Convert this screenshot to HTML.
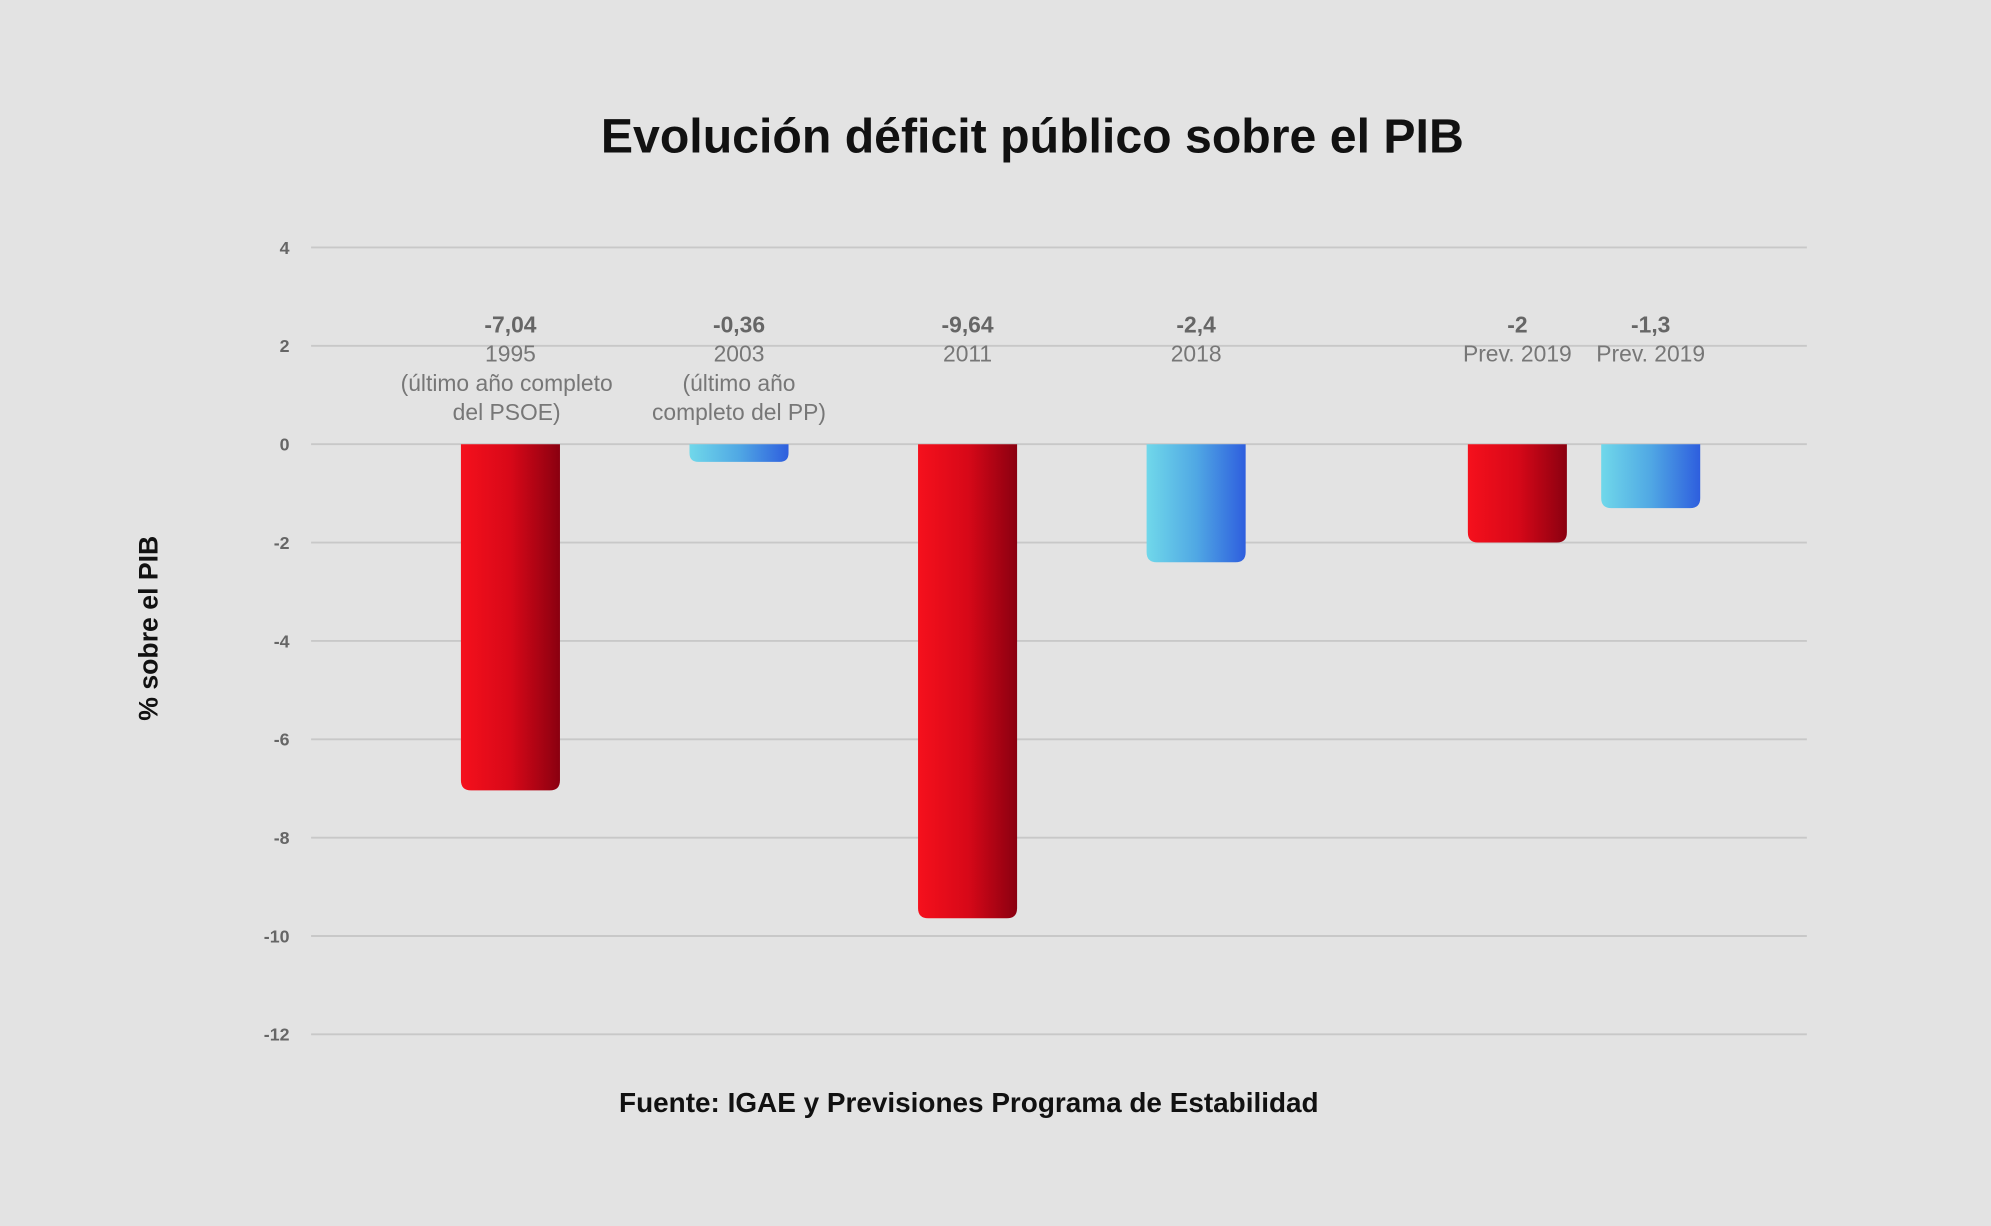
<!DOCTYPE html>
<html><head><meta charset="utf-8"><style>
html,body{margin:0;padding:0;background:#e3e3e3;}
svg{display:block;font-family:"Liberation Sans",sans-serif;}
</style></head><body>
<svg id="chart" width="1991" height="1226" viewBox="0 0 1568 966" preserveAspectRatio="none" xmlns="http://www.w3.org/2000/svg">
<defs>
<linearGradient id="gRed" x1="0" x2="1" y1="0" y2="0"><stop offset="0" stop-color="#f5101c"/><stop offset="0.5" stop-color="#d80818"/><stop offset="1" stop-color="#8a0010"/></linearGradient>
<linearGradient id="gBlue" x1="0" x2="1" y1="0" y2="0"><stop offset="0" stop-color="#70d8ea"/><stop offset="0.5" stop-color="#50a8e4"/><stop offset="1" stop-color="#2e5ede"/></linearGradient>
</defs>
<rect width="1568" height="966" fill="#e3e3e3"/>
<text x="813" y="120" text-anchor="middle" font-size="38" font-weight="bold" fill="#111">Evolución déficit público sobre el PIB</text>
<text transform="translate(124,495) rotate(-90)" text-anchor="middle" font-size="21" font-weight="bold" fill="#111">% sobre el PIB</text>
<text x="763" y="876" text-anchor="middle" font-size="22" font-weight="bold" fill="#111">Fuente: IGAE y Previsiones Programa de Estabilidad</text>
<g id="grid"></g><g id="bars"></g><g id="labels"></g>
</svg>
<script>
const ticks=[4,2,0,-2,-4,-6,-8,-10,-12];
const values=[-7.04,-0.36,-9.64,-2.4,-2,-1.3];
const valueLabels=["-7,04","-0,36","-9,64","-2,4","-2","-1,3"];
const categories=[["1995","(último año completo","del PSOE)"],["2003","(último año","completo del PP)"],["2011"],["2018"],["Prev. 2019"],["Prev. 2019"]];
const parties=["psoe","pp","psoe","pp","psoe","pp"];
const NS="http://www.w3.org/2000/svg";
const y=v=>350-v*38.75;
const xc=[402,582,762,942,1195,1300];
const x=i=>xc[i];
function mk(t,a,p){const e=document.createElementNS(NS,t);for(const k in a)e.setAttribute(k,a[k]);p.appendChild(e);return e;}
const grid=document.getElementById('grid'),bars=document.getElementById('bars'),labels=document.getElementById('labels');
ticks.forEach(t=>{
 const l=mk('line',{x1:245,x2:1423,y1:y(t),y2:y(t),stroke:'#c8c8c8','stroke-width':1.5},grid);
 
 
 const tx=mk('text',{x:228,y:y(t)+5,'text-anchor':'end','font-size':14,'font-weight':'bold',fill:'#666'},grid);
 tx.textContent=t;
 
 
});
values.forEach((v,i)=>{
 const w=78,r=8,x0=x(i)-w/2,y0=y(0),y1=y(v);
 const h=y1-y0;const rr=Math.min(r,h/2);
 const d=`M${x0},${y0} H${x0+w} V${y1-rr} Q${x0+w},${y1} ${x0+w-rr},${y1} H${x0+rr} Q${x0},${y1} ${x0},${y1-rr} Z`;
 const b=mk('path',{d,fill:parties[i]==='psoe'?'url(#gRed)':'url(#gBlue)'},bars);
 
 
 const vl=mk('text',{x:x(i),y:262,'text-anchor':'middle','font-size':18,'font-weight':'bold',fill:'#666'},labels);
 vl.textContent=valueLabels[i];
 
 
 categories[i].forEach((c,j)=>{
  const cl=mk('text',{x:x(i)-(j>0&&i===0?3:0),y:285+j*23,'text-anchor':'middle','font-size':18,fill:'#777'},labels);
  cl.textContent=c;
  
  
 });
});
</script>
</body></html>
